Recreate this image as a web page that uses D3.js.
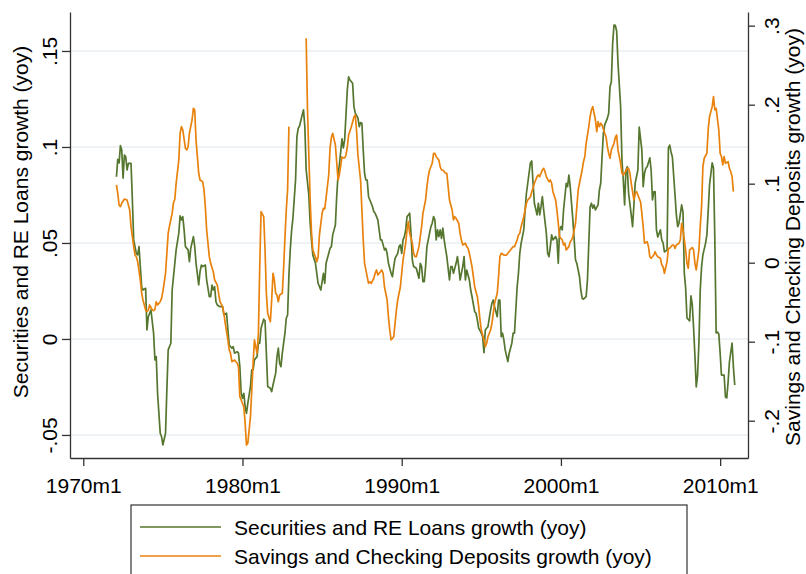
<!DOCTYPE html>
<html><head><meta charset="utf-8">
<script src="https://cdn.jsdelivr.net/npm/d3@7"></script>
<style>
html,body{margin:0;padding:0;background:#fff;}
svg{display:block;font-family:"Liberation Sans",Arial,Helvetica,sans-serif;}
</style></head><body>
<svg id="chart" width="806" height="574"></svg>
<script>
const greenDates = [
"1972m2","1972m3","1972m4","1972m5","1972m6","1972m7","1972m8","1972m9","1972m10","1972m11",
"1973m1","1973m2","1973m3","1973m5","1973m6","1973m7","1973m8","1973m9","1973m10","1973m12",
"1974m1","1974m2","1974m4","1974m6","1974m7","1974m8","1974m9","1974m11","1974m12",
"1975m1","1975m3","1975m4","1975m5","1975m7","1975m8","1975m10","1975m11",
"1976m1","1976m2","1976m3","1976m4","1976m5","1976m6","1976m8","1976m9","1976m10","1976m12",
"1977m1","1977m2","1977m4","1977m5","1977m6","1977m7","1977m9","1977m10","1977m12",
"1978m1","1978m2","1978m3","1978m4","1978m5","1978m6","1978m8","1978m10","1978m11",
"1979m1","1979m2","1979m3","1979m5","1979m6","1979m7","1979m9","1979m10","1979m11","1979m12",
"1980m1","1980m2","1980m3","1980m4","1980m5","1980m7","1980m8","1980m9","1980m10","1980m12",
"1981m1","1981m2","1981m3","1981m5","1981m6","1981m7","1981m8","1981m10","1981m11","1981m12",
"1982m2","1982m3","1982m4","1982m5","1982m6","1982m7","1982m9","1982m10","1982m11","1982m12",
"1983m1","1983m2","1983m3","1983m5","1983m6","1983m7","1983m8","1983m10","1983m11","1983m12",
"1984m1","1984m3","1984m4","1984m5","1984m6","1984m8","1984m10","1984m12",
"1985m1","1985m2","1985m3","1985m4","1985m6","1985m7","1985m8","1985m9","1985m11","1985m12",
"1986m1","1986m2","1986m4","1986m5","1986m6","1986m7","1986m8","1986m9","1986m10","1986m12",
"1987m1","1987m2","1987m4","1987m5","1987m6","1987m7","1987m8","1987m9","1987m10","1987m11","1987m12",
"1988m2","1988m3","1988m4","1988m5","1988m7","1988m8","1988m9","1988m10","1988m12",
"1989m1","1989m2","1989m3","1989m5","1989m6","1989m7","1989m8","1989m10","1989m11","1989m12",
"1990m1","1990m2","1990m3","1990m4","1990m5","1990m7","1990m8","1990m9","1990m10","1990m12",
"1991m1","1991m2","1991m3","1991m4","1991m5","1991m6","1991m7","1991m8","1991m10","1991m11","1991m12",
"1992m1","1992m2","1992m3","1992m4","1992m5","1992m6","1992m7","1992m8","1992m9","1992m10","1992m11",
"1993m1","1993m2","1993m3","1993m4","1993m6","1993m7","1993m8","1993m9","1993m11","1993m12",
"1994m1","1994m2","1994m4","1994m5","1994m6","1994m8","1994m9","1994m10","1994m11",
"1995m1","1995m2","1995m3","1995m4","1995m5","1995m6","1995m8","1995m9","1995m10","1995m11",
"1996m1","1996m2","1996m3","1996m4","1996m5","1996m6","1996m7","1996m9","1996m10","1996m12",
"1997m1","1997m2","1997m3","1997m4","1997m5","1997m6","1997m7","1997m9","1997m10","1997m11","1997m12",
"1998m2","1998m3","1998m4","1998m5","1998m7","1998m8","1998m9","1998m10","1998m11","1998m12",
"1999m2","1999m3","1999m4","1999m5","1999m6","1999m7","1999m9","1999m10","1999m11","1999m12",
"2000m1","2000m2","2000m3","2000m5","2000m6","2000m7","2000m8","2000m10","2000m11","2000m12",
"2001m1","2001m3","2001m4","2001m5","2001m6","2001m8","2001m9","2001m10","2001m11","2001m12",
"2002m1","2002m2","2002m3","2002m5","2002m6","2002m7","2002m8","2002m9","2002m10","2002m12",
"2003m1","2003m2","2003m3","2003m4","2003m5","2003m6","2003m7","2003m8","2003m10","2003m11","2003m12",
"2004m1","2004m2","2004m3","2004m4","2004m6","2004m7","2004m8","2004m9","2004m11","2004m12",
"2005m2","2005m3","2005m4","2005m5","2005m6","2005m8","2005m9","2005m10","2005m11","2005m12",
"2006m1","2006m2","2006m4","2006m5","2006m6","2006m7","2006m9","2006m10","2006m11","2006m12",
"2007m1","2007m3","2007m4","2007m5","2007m6","2007m8","2007m9","2007m10","2007m11","2007m12",
"2008m2","2008m3","2008m4","2008m5","2008m6","2008m7","2008m8","2008m9","2008m10","2008m11","2008m12",
"2009m2","2009m3","2009m4","2009m5","2009m7","2009m8","2009m9","2009m10","2009m11","2009m12",
"2010m1","2010m2","2010m4","2010m5","2010m6","2010m7","2010m8","2010m10","2010m11","2010m12"
];
const greenValues = [
.0845,.0936,.0917,.1007,.0984,.0837,.0958,.0949,.0880,.0915,
.0915,.0724,.0516,.0446,.0438,.0481,.0377,.0272,.0255,.0264,
.0047,.0116,.0151,.0030,-.0109,-.0092,-.0283,-.0491,-.0509,
-.0552,-.0491,-.0266,-.0057,-.0022,.0255,.0394,.0464,
.0551,.0641,.0620,.0637,.0568,.0481,.0464,.0403,.0472,.0533,
.0481,.0394,.0281,.0351,.0385,.0377,.0385,.0307,.0220,
.0220,.0281,.0255,.0272,.0194,.0177,.0168,.0168,.0125,
.0134,.0047,-.0031,-.0048,-.0040,-.0074,-.0066,-.0074,-.0144,-.0283,
-.0309,-.0283,-.0353,-.0387,-.0335,-.0248,-.0161,-.0161,-.0109,-.0092,
-.0022,-.0022,.0056,.0103,.0095,-.0074,-.0248,-.0257,-.0274,-.0240,
-.0179,-.0092,-.0048,-.0127,-.0144,-.0074,.0030,.0108,.0125,.0333,
.0464,.0563,.0629,.0828,.1052,.1097,.1109,.1167,.1193,.1104,
.0880,.0750,.0603,.0516,.0438,.0394,.0290,.0255,
.0298,.0342,.0290,.0394,.0446,.0472,.0481,.0542,.0594,.0741,
.0854,.0906,.1042,.0995,.1036,.1167,.1297,.1365,.1349,.1332,
.1210,.1176,.1151,.1106,.1127,.1123,.0984,.0863,.0828,.0828,.0741,
.0707,.0689,.0663,.0655,.0620,.0568,.0516,.0516,.0464,
.0472,.0446,.0394,.0342,.0324,.0377,.0420,.0446,.0481,.0490,
.0446,.0516,.0533,.0568,.0637,.0655,.0551,.0411,.0377,.0368,
.0342,.0316,.0394,.0377,.0298,.0298,.0377,.0481,.0551,.0585,.0603,
.0637,.0620,.0516,.0568,.0533,.0568,.0524,.0577,.0516,.0472,.0429,
.0307,.0377,.0377,.0342,.0394,.0429,.0377,.0307,.0377,.0429,
.0307,.0359,.0307,.0255,.0220,.0142,.0134,.0099,.0056,
.0030,.0012,-.0071,.0047,.0056,.0064,.0151,.0186,.0203,.0168,
.0116,.0203,.0203,.0012,.0030,-.0005,-.0057,-.0118,-.0074,-.0022,
.0030,.0030,.0151,.0272,.0342,.0446,.0498,.0568,.0672,.0759,.0811,
.0917,.0927,.0811,.0707,.0646,.0707,.0646,.0689,.0741,.0672,
.0551,.0446,.0429,.0481,.0542,.0516,.0533,.0516,.0394,.0568,
.0585,.0568,.0672,.0811,.0793,.0854,.0793,.0620,.0516,.0411,
.0394,.0324,.0255,.0212,.0207,.0220,.0307,.0498,.0689,.0707,
.0681,.0698,.0672,.0698,.0776,.0811,.0949,.1071,.1115,.1149,
.1176,.1314,.1340,.1540,.1635,.1633,.1604,.1438,.1210,.0932,.0828,
.0698,.0880,.0897,.0760,.0646,.0585,.0698,.0813,.0880,.1104,
.0984,.0793,.0863,.0889,.0897,.0943,.0880,.0724,.0766,.0767,
.0568,.0531,.0568,.0516,.0500,.0453,.0464,.0995,.1010,.0974,
.0948,.0750,.0646,.0585,.0603,.0698,.0661,.0342,.0266,.0109,
.0094,.0224,.0177,.0057,-.0089,-.0250,-.0188,-.0021,.0255,.0375,.0438,
.0498,.0542,.0667,.0802,.0917,.0891,.0516,.0031,.0036,.0026,
-.0073,-.0188,-.0188,-.0302,-.0307,-.0224,-.0120,-.0021,-.0146,-.0240
];
const orangeDates = [
"1972m2","1972m3","1972m4","1972m5","1972m6","1972m8","1972m10","1972m11","1972m12",
"1973m1","1973m3","1973m4","1973m5","1973m6","1973m8","1973m9","1973m10","1973m12",
"1974m1","1974m2","1974m3","1974m5","1974m6","1974m7","1974m8","1974m9","1974m11","1974m12",
"1975m1","1975m3","1975m4","1975m5","1975m6","1975m8","1975m9","1975m10","1975m11",
"1976m1","1976m2","1976m3","1976m4","1976m6","1976m7","1976m8","1976m9","1976m11","1976m12",
"1977m1","1977m2","1977m4","1977m5","1977m7","1977m8","1977m9","1977m10","1977m12",
"1978m1","1978m3","1978m4","1978m6","1978m7","1978m8","1978m10","1978m11","1978m12",
"1979m2","1979m3","1979m4","1979m5","1979m7","1979m9","1979m10","1979m11","1979m12",
"1980m2","1980m3","1980m4","1980m5","1980m7","1980m8","1980m9","1980m10","1980m12",
"1981m1","1981m2","1981m3","1981m5","1981m6","1981m7","1981m8","1981m10","1981m11","1981m12",
"1982m1","1982m2","1982m3","1982m4","1982m5","1982m7","1982m8","1982m9","1982m10","1982m11","1982m12",
"1983m6",
"1984m1","1984m2","1984m3","1984m4","1984m5","1984m6","1984m8","1984m9","1984m10","1984m11",
"1985m1","1985m2","1985m3","1985m4","1985m6","1985m7","1985m8","1985m9","1985m11","1985m12",
"1986m1","1986m2","1986m4","1986m5","1986m6","1986m7","1986m8","1986m9","1986m11",
"1987m1","1987m2","1987m3","1987m4","1987m6","1987m7","1987m8","1987m9","1987m11","1987m12",
"1988m1","1988m2","1988m4","1988m5","1988m6","1988m7","1988m9","1988m10","1988m11","1988m12",
"1989m2","1989m3","1989m4","1989m5","1989m7","1989m8","1989m9","1989m10","1989m12",
"1990m1","1990m2","1990m4","1990m5","1990m6","1990m7","1990m9","1990m10","1990m11","1990m12",
"1991m2","1991m3","1991m4","1991m5","1991m7","1991m8","1991m9","1991m10","1991m12",
"1992m1","1992m2","1992m3","1992m5","1992m6","1992m7","1992m8","1992m10","1992m11","1992m12",
"1993m1","1993m3","1993m4","1993m5","1993m6","1993m8","1993m9","1993m10","1993m11",
"1994m1","1994m2","1994m3","1994m4","1994m6","1994m7","1994m8","1994m10","1994m11","1994m12",
"1995m1","1995m3","1995m4","1995m5","1995m6","1995m8","1995m9","1995m10","1995m11",
"1996m1","1996m2","1996m3","1996m4","1996m6","1996m7","1996m8","1996m9","1996m11","1996m12",
"1997m1","1997m2","1997m4","1997m5","1997m6","1997m7","1997m9","1997m10","1997m11","1997m12",
"1998m2","1998m3","1998m4","1998m5","1998m7","1998m8","1998m9","1998m11","1998m12",
"1999m1","1999m2","1999m4","1999m5","1999m6","1999m7","1999m9","1999m10","1999m11","1999m12",
"2000m2","2000m3","2000m4","2000m5","2000m7","2000m8","2000m9","2000m10","2000m12",
"2001m1","2001m2","2001m3","2001m5","2001m6","2001m7","2001m8","2001m10","2001m11","2001m12",
"2002m1","2002m3","2002m4","2002m5","2002m6","2002m7","2002m8","2002m10","2002m11","2002m12",
"2003m1","2003m2","2003m3","2003m5","2003m6","2003m7","2003m8","2003m10","2003m11","2003m12",
"2004m1","2004m3","2004m4","2004m5","2004m6","2004m8","2004m9","2004m10","2004m11",
"2005m1","2005m2","2005m3","2005m4","2005m6","2005m7","2005m8","2005m9","2005m11","2005m12",
"2006m1","2006m2","2006m4","2006m5","2006m6","2006m7","2006m9","2006m10","2006m11",
"2007m1","2007m2","2007m3","2007m4","2007m6","2007m7","2007m8","2007m9","2007m11","2007m12",
"2008m1","2008m2","2008m4","2008m5","2008m6","2008m7","2008m9","2008m10","2008m11","2008m12",
"2009m1","2009m3","2009m4","2009m5","2009m7","2009m8","2009m9","2009m10","2009m12",
"2010m1","2010m2","2010m3","2010m4","2010m5","2010m7","2010m8","2010m9","2010m10","2010m11"
];
const orangeValues = [
.0984,.0878,.0730,.0709,.0752,.0806,.0794,.0730,.0667,
.0456,.0203,.0097,.0076,.0013,-.0219,-.0387,-.0472,-.0599,
-.0620,-.0599,-.0535,-.0599,-.0608,-.0590,-.0494,-.0535,-.0494,-.0451,
-.0367,-.0134,.0119,.0372,.0465,.0625,.0759,.0803,.1005,
.1300,.1638,.1722,.1680,.1448,.1427,.1468,.1638,.1806,.1954,
.1933,.1553,.1132,.1047,.1025,.0920,.0709,.0414,.0076,
-.0008,-.0114,-.0219,-.0282,-.0387,-.0494,-.0557,-.0641,-.0767,
-.0978,-.1105,-.1147,-.1253,-.1232,-.1273,-.1316,-.1696,-.1738,
-.1823,-.2033,-.2308,-.2286,-.1949,-.1611,-.1273,-.0978,-.1147,
-.0894,-.0051,.0646,.0582,.0161,-.0387,-.0641,-.0747,-.0472,-.0134,
-.0219,-.0387,-.0409,-.0494,-.0409,-.0387,-.0067,.0313,.0667,.0920,.1722,
null,
.2841,.1933,.1363,.0794,.0389,.0161,.0072,.0013,.0076,.0351,
.0625,.0689,.0680,.0819,.1110,.1452,.1585,.1638,.1490,.1275,
.1047,.1110,.1338,.1325,.1325,.1363,.1465,.1616,.1718,
.1844,.1870,.1667,.1363,.1047,.0667,.0287,-.0008,-.0177,-.0261,
-.0241,-.0261,-.0197,-.0134,-.0092,-.0156,-.0114,-.0092,-.0134,-.0304,
-.0472,-.0684,-.0852,-.0978,-.0937,-.0767,-.0599,-.0472,-.0304,
-.0134,.0034,.0246,.0414,.0519,.0372,.0246,.0119,.0076,.0076,
.0203,.0329,.0456,.0625,.0794,.0962,.1089,.1173,.1258,
.1385,.1385,.1342,.1300,.1215,.1173,.1173,.1132,.1132,.0962,
.0794,.0667,.0541,.0582,.0562,.0499,.0372,.0287,.0224,
.0246,.0203,.0182,.0119,-.0051,-.0177,-.0304,-.0430,-.0557,-.0725,
-.0852,-.0978,-.1063,-.1020,-.0937,-.0852,-.0767,-.0641,-.0514,
-.0387,-.0177,.0076,.0119,.0097,.0097,.0097,.0119,.0161,.0182,
.0203,.0203,.0287,.0351,.0372,.0456,.0582,.0667,.0752,.0794,
.0832,.0899,.0946,.1005,.1089,.1110,.1089,.1173,.1195,
.1152,.1089,.1025,.1047,.1005,.0899,.0794,.0667,.0499,.0329,
.0287,.0224,.0246,.0161,.0203,.0266,.0287,.0329,.0499,
.0709,.0920,.1005,.1173,.1278,.1342,.1511,.1722,.1848,.1933,
.1975,.1806,.1658,.1785,.1722,.1765,.1743,.1638,.1595,.1468,
.1385,.1322,.1427,.1511,.1585,.1616,.1427,.1258,.1132,.1110,
.1132,.1195,.1195,.1132,.1005,.0794,.0878,.0899,.0857,
.0772,.0625,.0456,.0246,.0266,.0203,.0076,.0056,.0097,.0139,
.0097,.0076,.0056,-.0029,-.0051,-.0134,.0013,.0182,.0182,
.0224,.0224,.0182,.0224,.0246,.0287,.0499,.0414,.0161,-.0008,
-.0071,.0161,.0192,.0161,-.0008,-.0092,.0161,.0456,.0709,.1215,
.1322,.1385,.1680,.1848,.1975,.2101,.1933,.1954,.1680,
.1385,.1342,.1237,.1342,.1258,.1278,.1195,.1152,.1089,.0899
];
const xTickLabels = ["1970m1","1980m1","1990m1","2000m1","2010m1"];
const leftTickValues = [-0.05, 0, 0.05, 0.1, 0.15];
const leftTickLabels = ["-.05","0",".05",".1",".15"];
const rightTickValues = [-0.2, -0.1, 0, 0.1, 0.2, 0.3];
const rightTickLabels = ["-.2","-.1","0",".1",".2",".3"];
const seriesNames = ["Securities and RE Loans growth (yoy)", "Savings and Checking Deposits growth (yoy)"];
const seriesColors = ["#55762e", "#e8820c"];

const parseMonth = s => { const p = s.split("m").map(Number); return (p[0] - 1970) * 12 + (p[1] - 1); };

const plot = {left: 70, right: 748, top: 12, bottom: 458};
const FS = 21;
const axisColor = "#333";

const svg = d3.select("#chart");
svg.append("rect").attr("width", 806).attr("height", 574).attr("fill", "#fff");

const x = d3.scaleLinear().domain([parseMonth("1969m3"), parseMonth("2011m10")]).range([plot.left, plot.right]);
const yL = d3.scaleLinear().domain([-0.062, 0.1703]).range([plot.bottom, plot.top]);
const yR = d3.scaleLinear().domain([-0.2472, 0.3173]).range([plot.bottom, plot.top]);

// gridlines
svg.append("g").selectAll("line").data(leftTickValues).join("line")
  .attr("x1", plot.left).attr("x2", plot.right)
  .attr("y1", d => yL(d)).attr("y2", d => yL(d))
  .attr("stroke", "#e7eff1").attr("stroke-width", 1.4);

// series
const greenData = greenDates.map((d, i) => ({t: parseMonth(d), v: greenValues[i]}));
const orangeData = orangeDates.map((d, i) => ({t: parseMonth(d), v: orangeValues[i]}));

svg.append("path").datum(greenData)
  .attr("fill", "none").attr("stroke", seriesColors[0]).attr("stroke-width", 1.7).attr("stroke-linejoin", "round")
  .attr("d", d3.line().defined(d => d.v != null).x(d => x(d.t)).y(d => yL(d.v)));

svg.append("path").datum(orangeData)
  .attr("fill", "none").attr("stroke", seriesColors[1]).attr("stroke-width", 1.7).attr("stroke-linejoin", "round")
  .attr("d", d3.line().defined(d => d.v != null).x(d => x(d.t)).y(d => yR(d.v)));

function styleAxis(g) {
  g.selectAll(".domain").attr("stroke", axisColor).attr("stroke-width", 1.3);
  g.selectAll(".tick line").attr("stroke", axisColor).attr("stroke-width", 1.3);
  g.selectAll(".tick text").attr("fill", "#000").attr("font-size", FS).attr("font-family", "Liberation Sans, Arial, sans-serif");
}

// left axis
const gL = svg.append("g").attr("transform", `translate(${plot.left},0)`)
  .call(d3.axisLeft(yL).tickValues(leftTickValues).tickFormat((d, i) => leftTickLabels[i]).tickSize(8).tickSizeOuter(0));
styleAxis(gL);
gL.selectAll(".tick text").attr("transform", "rotate(-90)").attr("x", 0).attr("y", -13).attr("dy", 0).attr("text-anchor", "middle");

// right axis
const gR = svg.append("g").attr("transform", `translate(${plot.right},0)`)
  .call(d3.axisRight(yR).tickValues(rightTickValues).tickFormat((d, i) => rightTickLabels[i]).tickSize(7).tickSizeOuter(0));
styleAxis(gR);
gR.selectAll(".tick text").attr("transform", "rotate(-90)").attr("x", 0).attr("y", 31).attr("dy", 0).attr("text-anchor", "middle");

// bottom axis
const xTickValues = xTickLabels.map(parseMonth);
const gB = svg.append("g").attr("transform", `translate(0,${plot.bottom})`)
  .call(d3.axisBottom(x).tickValues(xTickValues).tickFormat((d, i) => xTickLabels[i]).tickSize(8).tickSizeOuter(0));
styleAxis(gB);
gB.selectAll(".tick text").attr("y", 35).attr("dy", 0);

// axis titles
svg.append("text").attr("transform", `translate(28,222) rotate(-90)`)
  .attr("text-anchor", "middle").attr("font-size", FS).attr("fill", "#000").text(seriesNames[0]);
svg.append("text").attr("transform", `translate(800,237) rotate(-90)`)
  .attr("text-anchor", "middle").attr("font-size", FS).attr("fill", "#000").text(seriesNames[1]);

// legend
const lg = svg.append("g");
lg.append("rect").attr("x", 131).attr("y", 505).attr("width", 556).attr("height", 90)
  .attr("fill", "#fff").attr("stroke", axisColor).attr("stroke-width", 1.2);
seriesNames.forEach((name, i) => {
  const cy = 527 + i * 29;
  lg.append("line").attr("x1", 140).attr("x2", 221).attr("y1", cy).attr("y2", cy)
    .attr("stroke", seriesColors[i]).attr("stroke-width", 1.7);
  lg.append("text").attr("x", 234).attr("y", cy + 7.5).attr("font-size", FS).attr("fill", "#000").text(name);
});
</script>
</body></html>
